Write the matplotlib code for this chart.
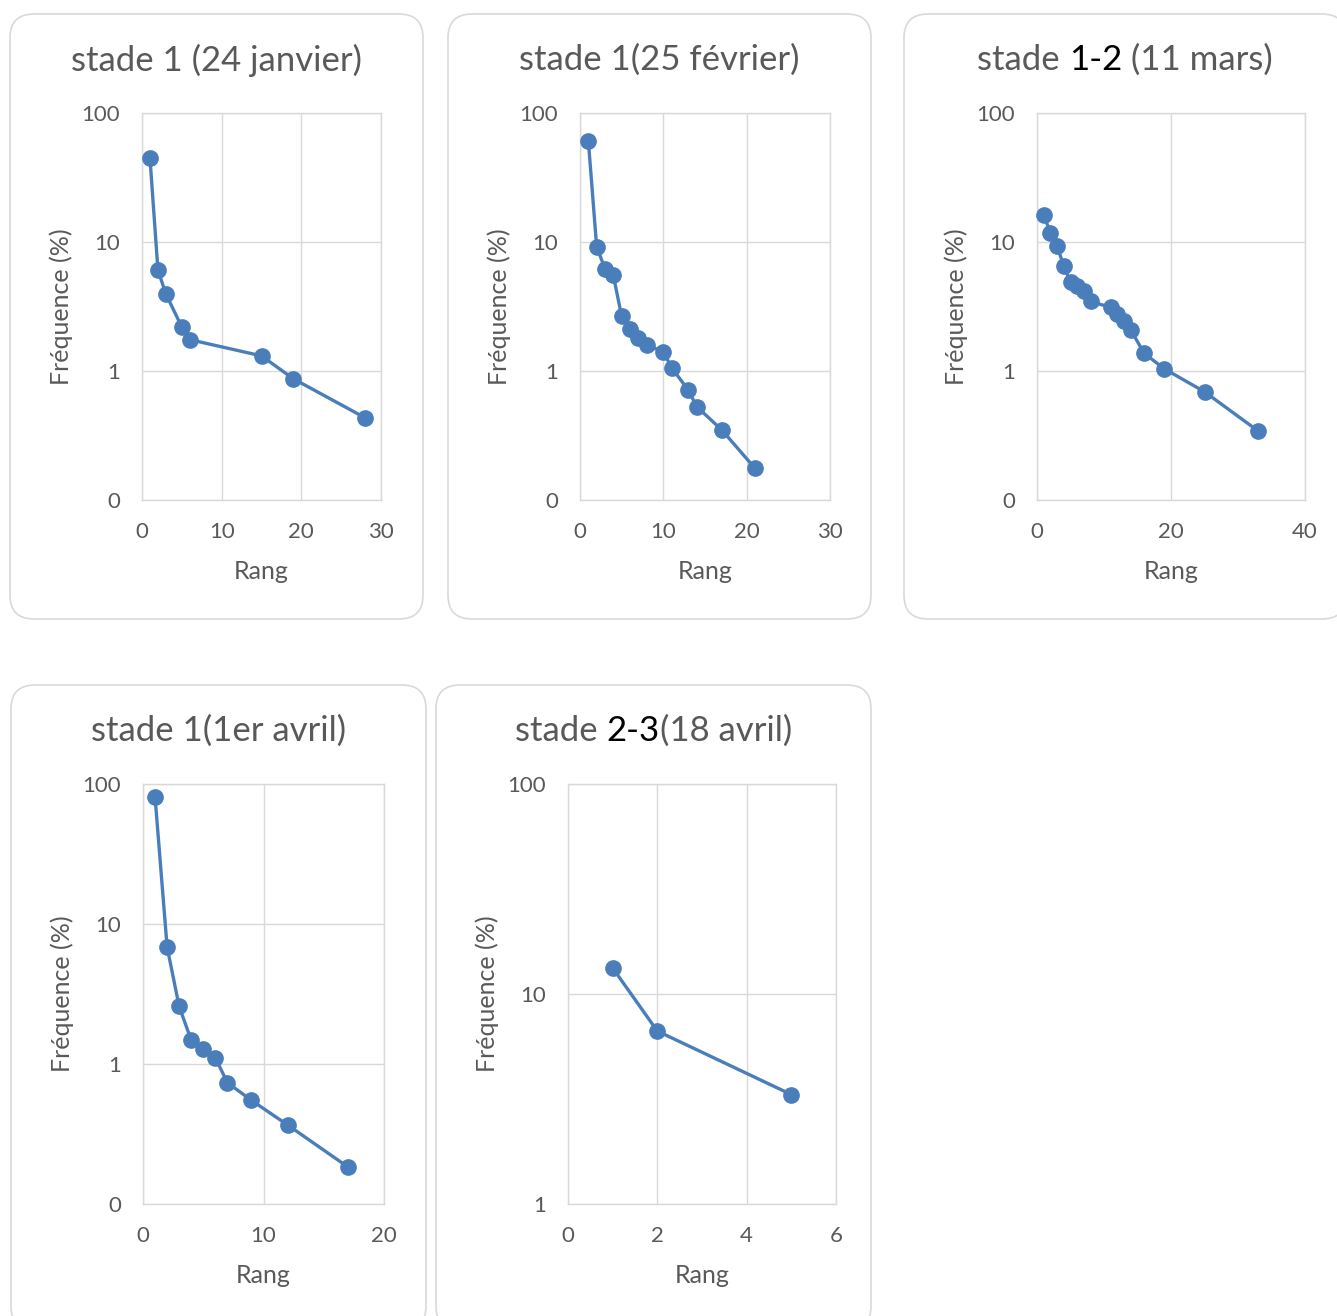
import matplotlib
matplotlib.use('Agg')
import matplotlib.pyplot as plt
from matplotlib.patches import FancyBboxPatch
from matplotlib.ticker import FixedLocator, FuncFormatter, NullLocator

plt.rcParams['font.family'] = ['Lato', 'DejaVu Sans']

#==============================================================================
# données
rang_24jan = [1, 2, 3, 5, 6, 15, 19, 28]
freq_24jan = [44.7, 6.07, 3.95, 2.19, 1.75, 1.31, 0.87, 0.434]

rang_25fev = [1, 2, 3, 4, 5, 6, 7, 8, 10, 11, 13, 14, 17, 21]
freq_25fev = [61.0, 9.2, 6.2, 5.5, 2.65, 2.11, 1.79, 1.59, 1.41, 1.06, 0.71, 0.53, 0.35, 0.176]

rang_11mar = [1, 2, 3, 4, 5, 6, 7, 8, 11, 12, 13, 14, 16, 19, 25, 33]
freq_11mar = [16.2, 11.8, 9.3, 6.5, 4.89, 4.55, 4.16, 3.46, 3.11, 2.78, 2.44, 2.08, 1.37, 1.04, 0.69, 0.343]

rang_1avr = [1, 2, 3, 4, 5, 6, 7, 9, 12, 17]
freq_1avr = [80.7, 6.85, 2.58, 1.48, 1.29, 1.11, 0.736, 0.55, 0.367, 0.184]

rang_18avr = [1, 2, 5]
freq_18avr = [13.3, 6.66, 3.32]

titres = [
    [('stade 1 (24 janvier)', '#595959')],
    [('stade 1(25 février)', '#595959')],
    [('stade ', '#595959'), ('1-2', '#000000'), (' (11 mars)', '#595959')],
    [('stade 1(1er avril)', '#595959')],
    [('stade ', '#595959'), ('2-3', '#000000'), ('(18 avril)', '#595959')],
]
xticks_list = [[0, 10, 20, 30], [0, 10, 20, 30], [0, 20, 40], [0, 10, 20], [0, 2, 4, 6]]
yticks_list = [[0.1, 1, 10, 100]] * 4 + [[1, 10, 100]]

#==============================================================================
# mise en page (pixels)
W, H = 1337, 1316
# cadres arrondis : gauche, haut, droite, bas
cadres = [(10, 14, 423, 619), (448, 14, 871, 619), (904, 14, 1346, 619),
          (11, 685, 426, 1330), (436, 685, 871, 1330)]
# zones de tracé : gauche, haut, droite, bas
zones = [(142, 113, 381, 500), (580, 113, 830, 500), (1037, 113, 1305, 500),
         (143, 784, 384, 1204), (568, 784, 836, 1204)]
titre_y = [60, 60, 60, 731, 731]

bleu = '#4a7ebb'
gris_grille = '#d9d9d9'
gris_texte = '#595959'

fig = plt.figure(figsize=(W / 100, H / 100), dpi=100)
renderer = fig.canvas.get_renderer()


def largeur(s, fs):
    # largeur d'un texte en pixels (espaces finales comprises)
    t1 = fig.text(0, 0, s + '|', fontsize=fs)
    t2 = fig.text(0, 0, '|', fontsize=fs)
    w = t1.get_window_extent(renderer).width - t2.get_window_extent(renderer).width
    t1.remove()
    t2.remove()
    return w


def titre(cx, cy, morceaux, fs=25):
    total = largeur(''.join(m[0] for m in morceaux), fs)
    x = cx - total / 2
    prefixe = ''
    for s, c in morceaux:
        xp = x + largeur(prefixe, fs) if prefixe else x
        fig.text(xp / W, 1 - cy / H, s, color=c, fontsize=fs, ha='left', va='center')
        prefixe += s


donnees = [(rang_24jan, freq_24jan), (rang_25fev, freq_25fev), (rang_11mar, freq_11mar),
           (rang_1avr, freq_1avr), (rang_18avr, freq_18avr)]

for i in range(5):
    l, t, r, b = cadres[i]
    fig.patches.append(FancyBboxPatch((l / W, 1 - b / H), (r - l) / W, (b - t) / H,
                                      boxstyle='round,pad=0,rounding_size=0.018',
                                      transform=fig.transFigure, facecolor='white',
                                      edgecolor=gris_grille, linewidth=1.2, zorder=-5))
    l, t, r, b = zones[i]
    ax = fig.add_axes([l / W, 1 - b / H, (r - l) / W, (b - t) / H])
    ax.set_facecolor('none')
    x, y = donnees[i]
    ax.plot(x, y, color=bleu, linewidth=2.4, marker='o', markersize=11, zorder=3,
            clip_on=False)
    ax.set_yscale('log')
    xt = xticks_list[i]
    yt = yticks_list[i]
    ax.set_xlim(xt[0], xt[-1])
    ax.set_ylim(yt[0], yt[-1])
    ax.xaxis.set_major_locator(FixedLocator(xt))
    ax.yaxis.set_major_locator(FixedLocator(yt))
    ax.yaxis.set_minor_locator(NullLocator())
    ax.yaxis.set_major_formatter(FuncFormatter(lambda v, p: '%d' % round(v)))
    ax.grid(True, color=gris_grille, linewidth=1.0)
    ax.set_axisbelow(True)
    for sp in ax.spines.values():
        sp.set_color(gris_grille)
        sp.set_linewidth(1.0)
    ax.tick_params(length=0, labelsize=16, labelcolor=gris_texte)
    ax.tick_params(axis='x', pad=16)
    ax.tick_params(axis='y', pad=16)
    ax.set_xlabel('Rang', fontsize=18, color=gris_texte, labelpad=13)
    ax.set_ylabel('Fréquence (%)', fontsize=18, color=gris_texte, labelpad=6)
    titre((cadres[i][0] + cadres[i][2]) / 2, titre_y[i], titres[i])

fig.savefig('out.png', dpi=100)
